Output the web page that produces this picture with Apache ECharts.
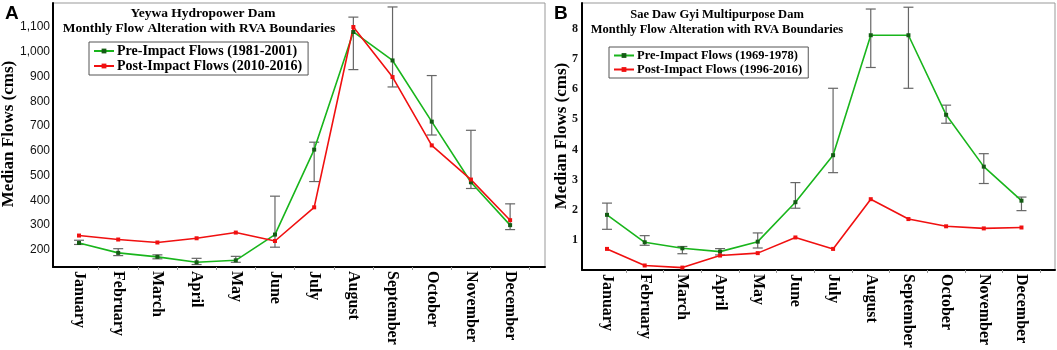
<!DOCTYPE html>
<html>
<head>
<meta charset="utf-8">
<script src="https://cdn.jsdelivr.net/npm/echarts@6/dist/echarts.min.js"></script>
<style>
  html, body { margin: 0; padding: 0; background: #fff; }
  #chart { width: 1057px; height: 350px; }
</style>
</head>
<body>
<div id="chart"></div>
<script>
// months on the x axis (1..12)
const months = ["January", "February", "March", "April", "May", "June",
  "July", "August", "September", "October", "November", "December"];
const monthIdx = [1, 2, 3, 4, 5, 6, 7, 8, 9, 10, 11, 12];

// panel A - Yeywa
const preA = [228, 188, 172, 150, 158, 262, 605, 1080, 965, 718, 473, 300];
const postA = [258, 242, 230, 247, 270, 236, 372, 1100, 898, 622, 484, 320];
const lowA = [222, 177, 164, 141, 150, 211, 476, 928, 858, 664, 448, 282];
const highA = [239, 205, 180, 166, 174, 417, 635, 1140, 1181, 904, 683, 386];
const ticksA = [200, 300, 400, 500, 600, 700, 800, 900, 1000, 1100];

// panel B - Sae Daw Gyi
const preB = [1.83, 0.92, 0.72, 0.61, 0.94, 2.25, 3.81, 7.79, 7.79, 5.15, 3.43, 2.30];
const postB = [0.70, 0.15, 0.08, 0.48, 0.56, 1.08, 0.70, 2.35, 1.69, 1.45, 1.38, 1.41];
const lowB = [1.35, 0.82, 0.54, 0.50, 0.73, 2.05, 3.23, 6.72, 6.03, 4.87, 2.87, 1.97];
const highB = [2.22, 1.14, 0.78, 0.71, 1.23, 2.90, 6.03, 8.66, 8.72, 5.47, 3.86, 2.42];
const ticksB = [1, 2, 3, 4, 5, 6, 7, 8];

const serif = "'Liberation Serif', 'Times New Roman', serif";
const sans = "'Liberation Sans', Arial, sans-serif";

const pairs = arr => arr.map((v, i) => [monthIdx[i], v]);
const bars = (lo, hi) => lo.map((v, i) => [monthIdx[i], v, hi[i]]);

function xAxisFor(idx) {
  return {
    type: "value",
    gridIndex: idx,
    min: 0.336,
    max: 12.89,
    splitLine: { show: false },
    axisLine: { show: true, onZero: false, lineStyle: { color: "#000", width: 2 } },
    axisTick: {
      show: true,
      length: 3,
      customValues: monthIdx.map(m => m + 0.5),
      lineStyle: { color: "#999" }
    },
    axisLabel: {
      customValues: monthIdx,
      rotate: -90,
      margin: 4,
      color: "#000",
      fontFamily: serif,
      fontWeight: "bold",
      fontSize: 16,
      formatter: v => months[Math.round(v) - 1]
    }
  };
}

function errorBars(data, gi) {
  return {
    type: "custom",
    xAxisIndex: gi,
    yAxisIndex: gi,
    z: 3,
    silent: true,
    data: data,
    renderItem(params, api) {
      const x = api.value(0);
      const lo = api.coord([x, api.value(1)]);
      const hi = api.coord([x, api.value(2)]);
      const w = 5;
      const st = { stroke: "#666", lineWidth: 1.2 };
      return {
        type: "group",
        children: [
          { type: "line", shape: { x1: lo[0], y1: lo[1], x2: hi[0], y2: hi[1] }, style: st },
          { type: "line", shape: { x1: lo[0] - w, y1: lo[1], x2: lo[0] + w, y2: lo[1] }, style: st },
          { type: "line", shape: { x1: hi[0] - w, y1: hi[1], x2: hi[0] + w, y2: hi[1] }, style: st }
        ]
      };
    }
  };
}

function lineSeries(name, data, gi, color, dot) {
  return {
    name: name,
    type: "line",
    xAxisIndex: gi,
    yAxisIndex: gi,
    data: data,
    z: 4,
    symbol: "rect",
    symbolSize: 4,
    lineStyle: { color: color, width: 1.6 },
    itemStyle: { color: dot, borderWidth: 0 }
  };
}

const chart = echarts.init(document.getElementById("chart"));
chart.setOption({
  animation: false,
  backgroundColor: "#fff",
  grid: [
    { left: 53, right: 512, top: 3, bottom: 83, show: true, borderColor: "#999", borderWidth: 1, outerBoundsMode: "none" },
    { left: 582, right: 2, top: 3, bottom: 80, show: true, borderColor: "#999", borderWidth: 1, outerBoundsMode: "none" }
  ],
  legend: [
    {
      data: ["Pre-Impact Flows (1981-2001)", "Post-Impact Flows (2010-2016)"],
      orient: "vertical",
      left: 89,
      top: 42,
      padding: [2, 6, 2, 4],
      itemGap: 1,
      itemWidth: 20,
      itemHeight: 6,
      selectedMode: false,
      borderColor: "#555",
      borderWidth: 1,
      textStyle: { fontFamily: serif, fontWeight: "bold", fontSize: 14, color: "#000", padding: [0, 0, 0, -2] }
    },
    {
      data: ["Pre-Impact Flows (1969-1978)", "Post-Impact Flows (1996-2016)"],
      orient: "vertical",
      left: 609,
      top: 47,
      padding: [2, 6, 2, 4],
      itemGap: 1,
      itemWidth: 20,
      itemHeight: 6,
      selectedMode: false,
      borderColor: "#555",
      borderWidth: 1,
      textStyle: { fontFamily: serif, fontWeight: "bold", fontSize: 12.5, color: "#000", padding: [0, 0, 0, -2] }
    }
  ],
  xAxis: [xAxisFor(0), xAxisFor(1)],
  yAxis: [
    {
      type: "value",
      gridIndex: 0,
      min: 131,
      max: 1197,
      splitLine: { show: false },
      axisLine: { show: true, lineStyle: { color: "#000", width: 2 } },
      axisTick: { show: false },
      axisLabel: {
        customValues: ticksA,
        margin: 3,
        color: "#111",
        fontFamily: sans,
        fontSize: 12,
        formatter: v => v.toLocaleString("en-US")
      }
    },
    {
      type: "value",
      gridIndex: 1,
      min: 0,
      max: 8.86,
      splitLine: { show: false },
      axisLine: { show: true, lineStyle: { color: "#000", width: 2 } },
      axisTick: { show: false },
      axisLabel: {
        customValues: ticksB,
        margin: 4,
        color: "#111",
        fontFamily: serif,
        fontWeight: "bold",
        fontSize: 12
      }
    }
  ],
  graphic: [
    { type: "text", x: 5, y: 4, style: { text: "A", font: "bold 19px " + sans, fill: "#000" } },
    { type: "text", x: 554, y: 4, style: { text: "B", font: "bold 19px " + sans, fill: "#000" } },
    { type: "text", x: 203, y: 14, style: { text: "Yeywa Hydropower Dam", font: "bold 13.5px " + serif, fill: "#000", textAlign: "center", textVerticalAlign: "middle" } },
    { type: "text", x: 199, y: 29, style: { text: "Monthly Flow Alteration with RVA Boundaries", font: "bold 13.5px " + serif, fill: "#000", textAlign: "center", textVerticalAlign: "middle" } },
    { type: "text", x: 717, y: 15, style: { text: "Sae Daw Gyi Multipurpose Dam", font: "bold 12.5px " + serif, fill: "#000", textAlign: "center", textVerticalAlign: "middle" } },
    { type: "text", x: 717, y: 30, style: { text: "Monthly Flow Alteration with RVA Boundaries", font: "bold 12.5px " + serif, fill: "#000", textAlign: "center", textVerticalAlign: "middle" } },
    { type: "text", x: 9, y: 134, rotation: Math.PI / 2, style: { text: "Median Flows (cms)", font: "bold 17px " + serif, fill: "#000", textAlign: "center", textVerticalAlign: "middle" } },
    { type: "text", x: 562, y: 136, rotation: Math.PI / 2, style: { text: "Median Flows (cms)", font: "bold 17px " + serif, fill: "#000", textAlign: "center", textVerticalAlign: "middle" } }
  ],
  series: [
    errorBars(bars(lowA, highA), 0),
    lineSeries("Pre-Impact Flows (1981-2001)", pairs(preA), 0, "#19b51c", "#145c14"),
    lineSeries("Post-Impact Flows (2010-2016)", pairs(postA), 0, "#f01010", "#f01010"),
    errorBars(bars(lowB, highB), 1),
    lineSeries("Pre-Impact Flows (1969-1978)", pairs(preB), 1, "#19b51c", "#145c14"),
    lineSeries("Post-Impact Flows (1996-2016)", pairs(postB), 1, "#f01010", "#f01010")
  ]
});
</script>
</body>
</html>
